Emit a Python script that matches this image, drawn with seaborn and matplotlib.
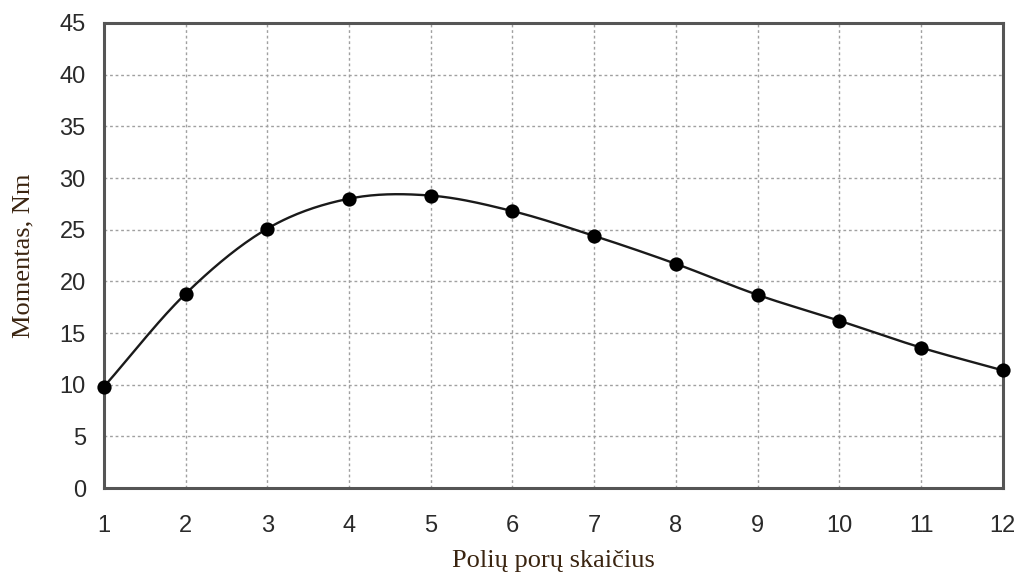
import numpy as np
import pandas as pd
import seaborn as sns
import matplotlib
matplotlib.use("Agg")
import matplotlib.pyplot as plt

# Torque versus number of pole pairs
pole_pairs = [1, 2, 3, 4, 5, 6, 7, 8, 9, 10, 11, 12]
torque_nm = [9.8, 18.8, 25.1, 28.0, 28.3, 26.8, 24.4, 21.7, 18.7, 16.2, 13.6, 11.4]
y_ticks = [0, 5, 10, 15, 20, 25, 30, 35, 40, 45]

df = pd.DataFrame({"p": pole_pairs, "M": torque_nm})


def catmull_rom(x, y, steps=30):
    """Smooth line path passing through every (x, y) point."""
    x = np.asarray(x, float)
    y = np.asarray(y, float)
    px = np.concatenate([[2 * x[0] - x[1]], x, [2 * x[-1] - x[-2]]])
    py = np.concatenate([[2 * y[0] - y[1]], y, [2 * y[-1] - y[-2]]])
    xs, ys = [], []
    t = np.linspace(0, 1, steps, endpoint=False)
    for i in range(1, len(px) - 2):
        for arr, out in ((px, xs), (py, ys)):
            p0, p1, p2, p3 = arr[i - 1], arr[i], arr[i + 1], arr[i + 2]
            out.append(0.5 * ((2 * p1) + (-p0 + p2) * t
                              + (2 * p0 - 5 * p1 + 4 * p2 - p3) * t ** 2
                              + (-p0 + 3 * p1 - 3 * p2 + p3) * t ** 3))
    xs.append([x[-1]])
    ys.append([y[-1]])
    return np.concatenate(xs), np.concatenate(ys)


sns.set_style("white")
plt.rcParams["font.family"] = ["Liberation Sans", "DejaVu Sans"]

fig = plt.figure(figsize=(10.18, 5.73), dpi=100)
ax = fig.add_axes([0.102, 0.148, 0.883, 0.812])

sx, sy = catmull_rom(df["p"], df["M"])
sns.lineplot(x=sx, y=sy, ax=ax, color="#1a1a1a", linewidth=1.7, sort=False,
             estimator=None, zorder=3)
sns.scatterplot(data=df, x="p", y="M", ax=ax, color="black", s=105,
                edgecolor="black", linewidth=0, zorder=4, clip_on=False)

ax.set_xlim(1, 12)
ax.set_ylim(0, 45)
ax.set_xticks(pole_pairs)
ax.set_yticks(y_ticks)
ax.grid(True, color="#a0a0a0", linestyle=(0, (2, 2)), linewidth=1.0)
ax.set_axisbelow(True)

for side in ax.spines.values():
    side.set_color("#555555")
    side.set_linewidth(2.2)
    side.set_visible(True)

ax.tick_params(axis="both", which="major", direction="out", length=7,
               width=1.0, color="#888888", labelsize=17, labelcolor="#2a2a2a")
ax.tick_params(axis="x", pad=12)
ax.tick_params(axis="y", pad=6)

ax.set_xlabel("Polių porų skaičius", fontsize=19, color="#3a2410",
              family=["Liberation Serif", "DejaVu Serif"], labelpad=10)
ax.set_ylabel("Momentas, Nm", fontsize=19, color="#3a2410",
              family=["Liberation Serif", "DejaVu Serif"], labelpad=18)

fig.savefig("out.png", dpi=100, facecolor="white")
